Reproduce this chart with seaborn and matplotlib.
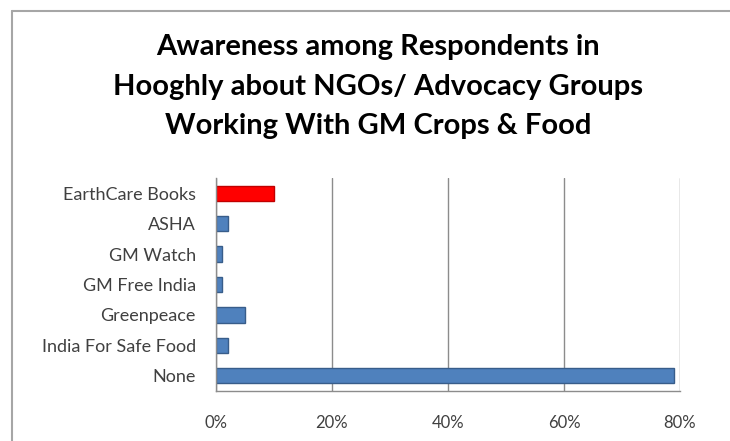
import matplotlib
matplotlib.use("Agg")
import matplotlib.pyplot as plt
import matplotlib.lines as mlines
import seaborn as sns
import pandas as pd
from matplotlib.ticker import PercentFormatter

# data
groups = ['EarthCare Books', 'ASHA', 'GM Watch', 'GM Free India',
          'Greenpeace', 'India For Safe Food', 'None']
awareness = [10, 2, 1, 1, 5, 2, 79]
bar_colors = ['#FF0000', '#4F81BD', '#4F81BD', '#4F81BD', '#4F81BD', '#4F81BD', '#4F81BD']

df = pd.DataFrame({'group': groups, 'pct': awareness})

sns.set_style('white')
plt.rcParams['font.family'] = ['Lato', 'DejaVu Sans']

fig = plt.figure(figsize=(7.3, 4.41), dpi=100)
ax = fig.add_axes([216 / 730, 1 - 391 / 441, (680 - 216) / 730, (391 - 178) / 441])

sns.barplot(data=df, y='group', x='pct', hue='group', palette=bar_colors,
            saturation=1, legend=False, width=0.5, ax=ax,
            edgecolor='#385D8A', linewidth=1)
# red bar edge
ax.patches[0].set_edgecolor('#C00000')

ax.set_xlim(0, 80)
ax.set_xticks([0, 20, 40, 60, 80])
ax.xaxis.set_major_formatter(PercentFormatter(decimals=0))
ax.grid(axis='x', color='#8C8C8C', linewidth=1)
ax.set_axisbelow(True)
ax.set_xlabel('')
ax.set_ylabel('')
for s in ['top', 'right']:
    ax.spines[s].set_visible(False)
for s in ['left', 'bottom']:
    ax.spines[s].set_color('#8C8C8C')
    ax.spines[s].set_linewidth(1)
ax.tick_params(axis='x', labelsize=12, colors='#404040', pad=14)
ax.tick_params(axis='y', labelsize=13, colors='#404040', pad=11)

fig.suptitle('Awareness among Respondents in\nHooghly about NGOs/ Advocacy Groups\nWorking With GM Crops & Food',
             x=378 / 730, y=1 - 34 / 441, fontsize=21, fontweight='bold',
             linespacing=1.65, color='black', va='top')

# chart border
fig.add_artist(mlines.Line2D([12 / 730, 12 / 730], [0, 1 - 11 / 441], color='#A6A6A6', lw=1.5, transform=fig.transFigure))
fig.add_artist(mlines.Line2D([12 / 730, 1], [1 - 11 / 441, 1 - 11 / 441], color='#A6A6A6', lw=1.5, transform=fig.transFigure))

fig.savefig('out.png', dpi=100)
